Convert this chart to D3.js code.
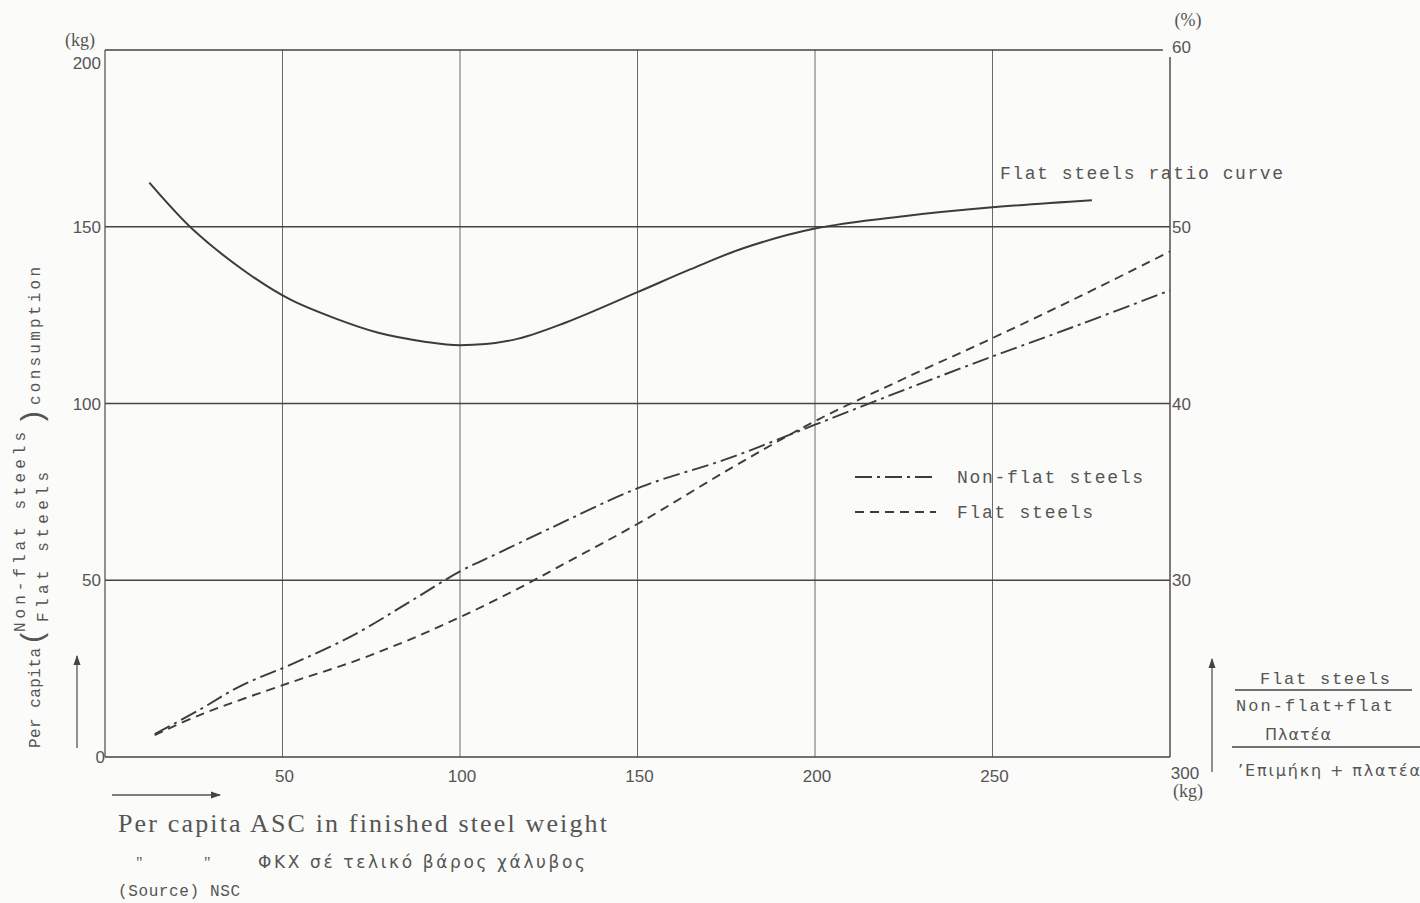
<!DOCTYPE html>
<html>
<head>
<meta charset="utf-8">
<script src="https://cdn.jsdelivr.net/npm/d3@7"></script>
<style>
  body { margin: 0; background: #fbfbf9; }
  svg { display: block; }
  .num { font-family: "Liberation Sans", "DejaVu Sans", sans-serif; font-size: 17px; fill: #555; }
  .mono { font-family: "Liberation Mono", "DejaVu Sans Mono", monospace; fill: #555; }
  .serif { font-family: "Liberation Serif", "DejaVu Serif", serif; fill: #555; }
  .greek { font-family: "DejaVu Sans", "Noto Sans", sans-serif; fill: #555; }
</style>
</head>
<body>
<svg id="chart" width="1420" height="903"></svg>
<script>
// ---- data ----
const xTicks = [50, 100, 150, 200, 250, 300];
const kgTicks = [0, 50, 100, 150, 200];
const pctTicks = [30, 40, 50, 60];

// flat steels / (non-flat + flat), in % (right axis)
const ratioKg  = [12.5, 25, 40, 52, 65, 77, 90, 100, 115, 130, 150, 165, 180, 200, 225, 250, 278];
const ratioPct = [52.5, 49.8, 47.4, 45.9, 44.8, 44.0, 43.5, 43.3, 43.6, 44.6, 46.3, 47.6, 48.8, 49.9, 50.6, 51.1, 51.5];

// per capita consumption, kg (left axis)
const nonFlatKg  = [14, 26, 38, 52, 70, 86, 100, 111, 125, 151, 176, 200, 225, 250, 275, 300];
const nonFlatVal = [6.5, 13, 20, 26, 34.5, 44, 52.5, 57.8, 64.5, 76.4, 84.6, 94, 103.8, 113.3, 122.5, 132];

const flatKg  = [14, 27, 52, 70, 86, 102, 118, 130, 151, 176, 200, 225, 250, 275, 300];
const flatVal = [6.2, 12, 21, 27, 33.3, 40.5, 48.5, 55, 66.5, 81.5, 95, 107, 118.5, 130.5, 143];

// ---- chart ----
const svg = d3.select('#chart');
const ink = '#3c3c3c';

const x = d3.scaleLinear().domain([0, 300]).range([105, 1170]);
const y = d3.scaleLinear().domain([0, 200]).range([757, 50]);
const yPct = d3.scaleLinear().domain([20, 60]).range([757, 50]);

const grid = svg.append('g');

// vertical grid lines
grid.selectAll('line.v')
  .data(xTicks.filter(d => d < 300))
  .enter().append('line')
  .attr('x1', d => x(d)).attr('x2', d => x(d))
  .attr('y1', y(200)).attr('y2', y(0))
  .attr('stroke', '#6a6a6a').attr('stroke-width', 1);

// horizontal grid lines
grid.selectAll('line.h')
  .data(kgTicks)
  .enter().append('line')
  .attr('x1', x(0)).attr('x2', d => d === 200 ? x(298) : x(300))
  .attr('y1', d => y(d)).attr('y2', d => y(d))
  .attr('stroke', '#444').attr('stroke-width', 1.6);

// left and right axis
grid.append('line').attr('x1', x(0)).attr('x2', x(0)).attr('y1', y(200)).attr('y2', y(0))
  .attr('stroke', '#555').attr('stroke-width', 1.3);
grid.append('line').attr('x1', x(300)).attr('x2', x(300)).attr('y1', y(198)).attr('y2', y(0))
  .attr('stroke', '#444').attr('stroke-width', 1.4);

// tick labels
svg.selectAll('text.xl')
  .data(xTicks)
  .enter().append('text').attr('class', 'num')
  .attr('x', d => x(d) + (d === 300 ? 15 : 2))
  .attr('y', d => d === 300 ? 779 : 782)
  .attr('text-anchor', 'middle')
  .text(d => d);

svg.selectAll('text.yl')
  .data(kgTicks)
  .enter().append('text').attr('class', 'num')
  .attr('x', d => d === 0 ? 105 : 101)
  .attr('y', d => y(d) + (d === 200 ? 19 : 6))
  .attr('text-anchor', 'end')
  .text(d => d);

svg.selectAll('text.pl')
  .data(pctTicks)
  .enter().append('text').attr('class', 'num')
  .attr('x', x(300) + 2)
  .attr('y', d => yPct(d) + (d === 60 ? 3 : 6))
  .text(d => d);

svg.append('text').attr('class', 'serif').attr('x', 80).attr('y', 46)
  .attr('text-anchor', 'middle').style('font-size', '18px').text('(kg)');
svg.append('text').attr('class', 'serif').attr('x', 1188).attr('y', 26)
  .attr('text-anchor', 'middle').style('font-size', '18px').text('(%)');
svg.append('text').attr('class', 'serif').attr('x', 1188).attr('y', 797)
  .attr('text-anchor', 'middle').style('font-size', '18px').text('(kg)');

// ---- curves ----
const smooth = d3.curveCatmullRom.alpha(0.5);

const ratioLine = d3.line().curve(smooth)
  .x((d, i) => x(ratioKg[i]))
  .y(d => yPct(d));
svg.append('path').datum(ratioPct)
  .attr('d', ratioLine)
  .attr('fill', 'none').attr('stroke', ink).attr('stroke-width', 2);

const kgLine = keys => d3.line().curve(smooth)
  .x((d, i) => x(keys[i]))
  .y(d => y(d));

svg.append('path').datum(nonFlatVal)
  .attr('d', kgLine(nonFlatKg))
  .attr('fill', 'none').attr('stroke', ink).attr('stroke-width', 1.9)
  .attr('stroke-dasharray', '17,5,3,5');

svg.append('path').datum(flatVal)
  .attr('d', kgLine(flatKg))
  .attr('fill', 'none').attr('stroke', ink).attr('stroke-width', 1.9)
  .attr('stroke-dasharray', '9,6');

svg.append('text').attr('class', 'mono').attr('x', 1000).attr('y', 179)
  .attr('textLength', 283).attr('lengthAdjust', 'spacing')
  .style('font-size', '18px').text('Flat steels ratio curve');

// ---- legend ----
const legend = svg.append('g');
const legendRows = [
  { label: 'Non-flat steels', dash: '17,5,3,5', y: 477, len: 186 },
  { label: 'Flat steels', dash: '9,6', y: 512, len: 136 }
];
legendRows.forEach(r => {
  legend.append('line').attr('x1', 855).attr('x2', 936).attr('y1', r.y).attr('y2', r.y)
    .attr('stroke', ink).attr('stroke-width', 1.9).attr('stroke-dasharray', r.dash);
  legend.append('text').attr('class', 'mono').attr('x', 957).attr('y', r.y + 6)
    .attr('textLength', r.len).attr('lengthAdjust', 'spacing')
    .style('font-size', '18px').text(r.label);
});

// ---- arrows ----
svg.append('defs').append('marker')
  .attr('id', 'head').attr('viewBox', '0 0 10 10').attr('refX', 9).attr('refY', 5)
  .attr('markerWidth', 8).attr('markerHeight', 8).attr('orient', 'auto')
  .append('path').attr('d', 'M0,1.5 L10,5 L0,8.5 Z').attr('fill', '#444');

const arrow = (x1, y1, x2, y2) => svg.append('line')
  .attr('x1', x1).attr('y1', y1).attr('x2', x2).attr('y2', y2)
  .attr('stroke', '#555').attr('stroke-width', 1.3).attr('marker-end', 'url(#head)');
arrow(77, 748, 77, 656);
arrow(112, 795, 220, 795);
arrow(1212, 772, 1212, 659);

// ---- left axis title (rotated) ----
const yt = svg.append('g').attr('class', 'mono').style('font-size', '16px');
const rot = (tx, ty) => `translate(${tx},${ty}) rotate(-90)`;
yt.append('text').attr('transform', rot(40, 748)).attr('textLength', 100)
  .attr('lengthAdjust', 'spacing').text('Per capita');
yt.append('text').attr('transform', rot(42, 646)).style('font-size', '30px')
  .style('font-weight', '300').text('(');
yt.append('text').attr('transform', rot(25, 632)).attr('textLength', 200)
  .attr('lengthAdjust', 'spacing').text('Non-flat steels');
yt.append('text').attr('transform', rot(48, 622)).attr('textLength', 150)
  .attr('lengthAdjust', 'spacing').text('Flat steels');
yt.append('text').attr('transform', rot(42, 426)).style('font-size', '30px')
  .style('font-weight', '300').text(')');
yt.append('text').attr('transform', rot(40, 405)).attr('textLength', 138)
  .attr('lengthAdjust', 'spacing').text('consumption');

// ---- bottom captions ----
svg.append('text').attr('class', 'serif').attr('x', 118).attr('y', 832)
  .attr('textLength', 489).attr('lengthAdjust', 'spacing')
  .style('font-size', '26px').text('Per capita ASC in finished steel weight');
svg.append('text').attr('class', 'serif').attr('x', 136).attr('y', 868)
  .style('font-size', '16px').text('"');
svg.append('text').attr('class', 'serif').attr('x', 204).attr('y', 868)
  .style('font-size', '16px').text('"');
svg.append('text').attr('class', 'greek').attr('x', 258).attr('y', 868)
  .attr('textLength', 327).attr('lengthAdjust', 'spacing')
  .style('font-size', '17px').text('ΦΚΧ σέ τελικό βάρος χάλυβος');
svg.append('text').attr('class', 'mono').attr('x', 118).attr('y', 896)
  .attr('textLength', 122).attr('lengthAdjust', 'spacing')
  .style('font-size', '16px').text('(Source)  NSC');

// ---- ratio definition, bottom right ----
const frac = svg.append('g');
frac.append('text').attr('class', 'mono').attr('x', 1260).attr('y', 684)
  .attr('textLength', 130).attr('lengthAdjust', 'spacing')
  .style('font-size', '17px').text('Flat steels');
frac.append('line').attr('x1', 1235).attr('x2', 1412).attr('y1', 690).attr('y2', 690)
  .attr('stroke', '#444').attr('stroke-width', 1.5);
frac.append('text').attr('class', 'mono').attr('x', 1236).attr('y', 711)
  .attr('textLength', 157).attr('lengthAdjust', 'spacing')
  .style('font-size', '17px').text('Non-flat+flat');
frac.append('text').attr('class', 'greek').attr('x', 1265).attr('y', 740)
  .attr('textLength', 66).attr('lengthAdjust', 'spacing')
  .style('font-size', '16px').text('Πλατέα');
frac.append('line').attr('x1', 1232).attr('x2', 1420).attr('y1', 747).attr('y2', 747)
  .attr('stroke', '#444').attr('stroke-width', 1.5);
frac.append('text').attr('class', 'greek').attr('x', 1238).attr('y', 776)
  .attr('textLength', 182).attr('lengthAdjust', 'spacing')
  .style('font-size', '16px').text('\u2019Επιμήκη + πλατέα');
</script>
</body>
</html>
